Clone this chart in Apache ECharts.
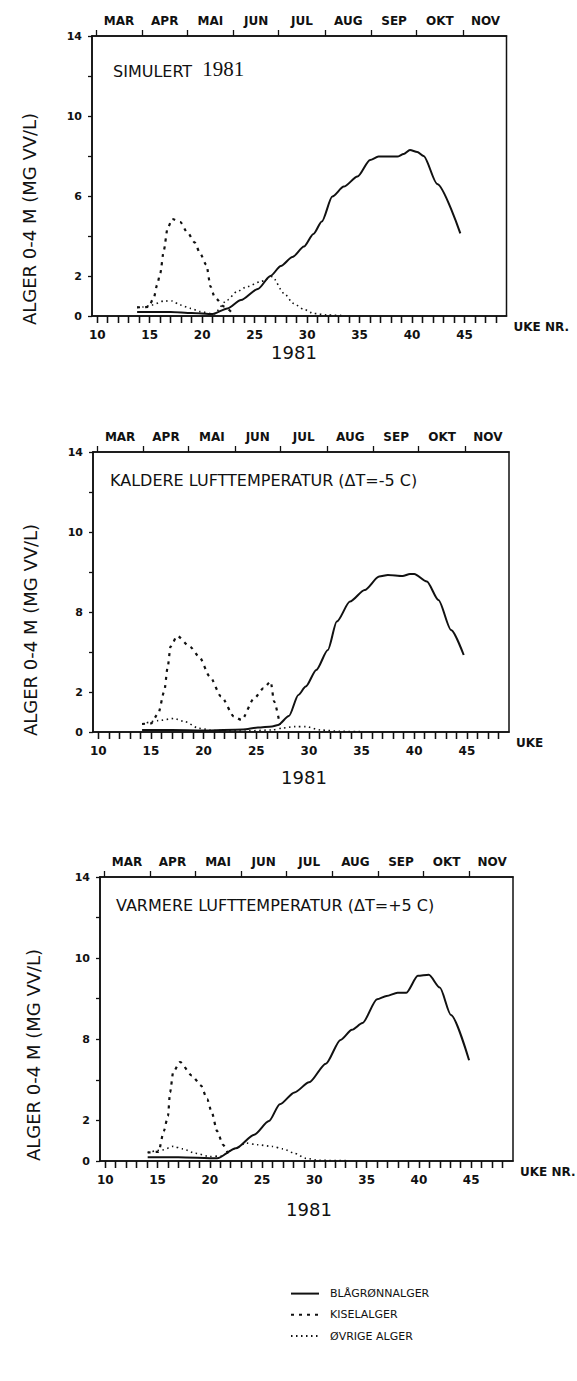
<!DOCTYPE html>
<html>
<head>
<meta charset="utf-8">
<script src="https://cdn.jsdelivr.net/npm/echarts@6/dist/echarts.min.js"></script>
<style>
html,body{margin:0;padding:0;background:#fff;}
#c{width:577px;height:1381px;}
</style>
</head>
<body>
<div id="c"></div>
<script>
// ---------- DATA ----------
const monthNames = ['MAR','APR','MAI','JUN','JUL','AUG','SEP','OKT','NOV'];
// month boundaries expressed in week numbers (1st of MAR ... 1st of DEC, 1981)
const monthStartWeeks = [9.86,14.29,18.57,23.0,27.29,31.71,36.14,40.43,44.86,49.14];
const weekTicks = [10,11,12,13,14,15,16,17,18,19,20,21,22,23,24,25,26,27,28,29,30,31,32,33,34,35,36,37,38,39,40,41,42,43,44,45,46,47,48];
const weekLabels = [10,15,20,25,30,35,40,45];
const yLabelValues = [0,2,6,10,14];
const yLabelTexts1 = ['0','2','6','10','14'];
const yLabelTexts23 = ['0','2','8','10','14'];
const seriesNames = ['BLÅGRØNNALGER','KISELALGER','ØVRIGE ALGER'];
const panelTitles = ['SIMULERT', 'KALDERE LUFTTEMPERATUR (ΔT=-5 C)', 'VARMERE LUFTTEMPERATUR (ΔT=+5 C)'];
const yearLabel = '1981';
const yTitle = 'ALGER 0-4 M (MG VV/L)';
const xNames = ['UKE NR.', 'UKE', 'UKE NR.'];

// Panel 1: simulert 1981  [week, mg/l]
const blaa1 = [[13.8,0.2],[15,0.2],[17,0.2],[19,0.15],[21,0.1],[22.4,0.38],[23.7,0.8],[25.3,1.35],[26.5,2.0],[27.5,2.5],[28.6,2.95],[29.7,3.47],[30.6,4.1],[31.4,4.72],[32.4,5.97],[33.5,6.47],[34.8,6.97],[36.0,7.8],[36.8,7.97],[38.6,7.97],[39.2,8.1],[39.8,8.3],[40.5,8.2],[41.1,8.0],[42.4,6.6],[44.6,4.13]];
const kisel1 = [[13.8,0.43],[14.9,0.45],[15.4,0.93],[15.7,1.55],[16.0,2.13],[16.35,3.3],[16.7,4.38],[17.15,4.85],[17.9,4.7],[18.6,4.17],[19.3,3.67],[19.8,3.13],[20.4,2.55],[20.8,1.47],[21.2,0.93],[22.1,0.47],[22.9,0.13]];
const ovrige1 = [[13.8,0.43],[14.4,0.45],[15.2,0.55],[16.35,0.75],[17.15,0.75],[17.9,0.55],[18.9,0.38],[19.8,0.22],[21.1,0.1],[22.4,0.8],[23.3,1.22],[24.3,1.47],[25.56,1.72],[26.67,1.97],[27.8,1.13],[28.7,0.63],[29.7,0.33],[30.6,0.13],[31.9,0.05],[33.5,0.02]];

// Panel 2: kaldere lufttemperatur
const blaa2 = [[14.16,0.1],[17,0.1],[20,0.08],[23.75,0.13],[25.16,0.22],[26.5,0.28],[27.07,0.35],[28.1,0.8],[29.0,1.85],[29.7,2.27],[30.7,3.1],[31.8,4.1],[32.65,5.52],[33.9,6.52],[35.3,7.1],[36.67,7.77],[37.5,7.85],[38.9,7.8],[39.6,7.9],[40.0,7.9],[41.2,7.52],[42.3,6.6],[43.5,5.1],[44.7,3.85]];
const kisel2 = [[14.16,0.4],[15.0,0.43],[15.7,0.93],[16.26,2.02],[16.6,3.27],[16.86,4.27],[17.5,4.8],[18.7,4.27],[19.57,3.77],[20.6,2.77],[21.67,1.77],[22.9,0.77],[23.6,0.6],[24.8,1.68],[25.68,2.18],[26.37,2.52],[26.7,1.52],[27.25,0.35]];
const ovrige2 = [[14.16,0.4],[15.7,0.57],[17.2,0.68],[18.2,0.52],[19.57,0.18],[21,0.07],[24,0.05],[26.5,0.1],[27.5,0.2],[28.7,0.27],[29.7,0.27],[31.1,0.1],[33,0.03],[35,0.02]];

// Panel 3: varmere lufttemperatur
const blaa3 = [[14.06,0.18],[17,0.18],[20.7,0.13],[22.5,0.63],[24.25,1.3],[25.66,1.97],[26.7,2.8],[28.1,3.38],[29.5,3.88],[31.1,4.8],[32.5,5.97],[33.6,6.47],[34.6,6.8],[36.0,7.97],[36.9,8.13],[37.96,8.3],[38.8,8.3],[39.9,9.13],[40.95,9.18],[42.0,8.55],[43.06,7.2],[44.8,4.97]];
const kisel3 = [[14.06,0.42],[15.1,0.45],[15.6,1.47],[16.0,2.22],[16.2,3.38],[16.5,4.38],[17.15,4.88],[18.28,4.22],[19.16,3.72],[19.75,3.05],[20.2,2.38],[20.7,1.47],[21.27,0.8],[21.8,0.3]];
const ovrige3 = [[14.06,0.42],[15.5,0.55],[16.5,0.72],[17.4,0.6],[18.6,0.38],[20.0,0.22],[21.1,0.25],[22.3,0.6],[23.5,0.88],[24.56,0.8],[25.96,0.72],[27.0,0.6],[28.1,0.38],[29.2,0.13],[30.5,0.03],[33,0.02]];

// ---------- LAYOUT ----------
const FONT = 'DejaVu Sans';
const INK = '#111';
const X_MIN = 9.5, X_MAX = 49;
const panels = [
  {grid:{left:92, top:36, width:414.5, height:280}, data:[blaa1,kisel1,ovrige1], yl:yLabelTexts1,
   yTitlePos:[29,219], yearPos:[294,352], titlePos:[113,58]},
  {grid:{left:93, top:452, width:416, height:280}, data:[blaa2,kisel2,ovrige2], yl:yLabelTexts23,
   yTitlePos:[30,630], yearPos:[304,777], titlePos:[110,472]},
  {grid:{left:100, top:877, width:413, height:284}, data:[blaa3,kisel3,ovrige3], yl:yLabelTexts23,
   yTitlePos:[33,1055], yearPos:[309,1209], titlePos:[116,897]}
];

const monthMids = [];
for (let i = 0; i < monthNames.length; i++) monthMids.push((monthStartWeeks[i] + monthStartWeeks[i+1]) / 2);
function monthFmt(v){
  let best = 0, bd = 1e9;
  monthMids.forEach((m,i)=>{ const d = Math.abs(m - v); if (d < bd){bd = d; best = i;} });
  return monthNames[best];
}

const lineStyles = [
  {type:'solid', width:2, color:INK},
  {type:[3,5], width:2.2, color:INK},
  {type:[1.5,3.5], width:1.6, color:INK}
];

const grids = [], xAxes = [], yAxes = [], series = [], graphics = [], titles = [];
panels.forEach((p, i) => {
  grids.push(Object.assign({show:true, borderColor:INK, borderWidth:1.5, backgroundColor:'transparent'}, p.grid));
  const axLine = {show:true, onZero:false, lineStyle:{color:INK, width:1.6}};
  // bottom week axis
  xAxes.push({gridIndex:i, type:'value', position:'bottom', min:X_MIN, max:X_MAX,
    axisLine:axLine,
    axisTick:{show:true, customValues:weekTicks, length:7, inside:false, lineStyle:{color:INK, width:1.3}},
    axisLabel:{customValues:weekLabels, fontFamily:FONT, fontSize:12, fontWeight:'bold', color:INK, margin:13},
    splitLine:{show:false},
    name:xNames[i], nameLocation:'end', nameGap:7,
    nameTextStyle:{fontFamily:FONT, fontSize:12, fontWeight:'bold', color:INK, verticalAlign:'top', align:'left', padding:[5,0,0,0]}
  });
  // top month axis
  xAxes.push({gridIndex:i, type:'value', position:'top', min:X_MIN, max:X_MAX,
    axisLine:axLine,
    axisTick:{show:true, customValues:monthStartWeeks, length:6, inside:false, lineStyle:{color:INK, width:1.3}},
    axisLabel:{customValues:monthMids, formatter:monthFmt, fontFamily:FONT, fontSize:12, fontWeight:'bold', color:INK, margin:9},
    splitLine:{show:false}
  });
  // top inward week ticks
  xAxes.push({gridIndex:i, type:'value', position:'top', min:X_MIN, max:X_MAX,
    axisLine:{show:false},
    axisTick:{show:true, customValues:weekTicks, length:7, inside:true, lineStyle:{color:INK, width:1.3}},
    axisLabel:{show:false},
    splitLine:{show:false}
  });
  const yl = p.yl;
  yAxes.push({gridIndex:i, type:'value', position:'left', min:0, max:14, interval:2,
    axisLine:{show:true, onZero:false, lineStyle:{color:INK, width:1.6}},
    axisTick:{show:true, length:4, lineStyle:{color:INK, width:1.3}},
    axisLabel:{fontFamily:FONT, fontSize:11, fontWeight:'bold', color:INK, margin:10,
      formatter:function(v){ const k = yLabelValues.indexOf(v); return k >= 0 ? yl[k] : ''; }},
    splitLine:{show:false}
  });
  p.data.forEach((d, s) => {
    series.push({type:'line', name:seriesNames[s], xAxisIndex:i*3, yAxisIndex:i, data:d,
      symbol:'none', smooth:0.25, smoothMonotone:'x', lineStyle:lineStyles[s],
      itemStyle:{color:INK}, z:3});
  });
  graphics.push({type:'text', x:p.yTitlePos[0], y:p.yTitlePos[1], rotation:Math.PI/2,
    style:{text:yTitle, fill:INK, font:'18px "DejaVu Sans"', textAlign:'center', textVerticalAlign:'middle'}});
  graphics.push({type:'text', x:p.yearPos[0], y:p.yearPos[1],
    style:{text:yearLabel, fill:INK, font:'18px "DejaVu Sans"', textAlign:'center', textVerticalAlign:'middle'}});
  if (i === 0) {
    titles.push({left:p.titlePos[0], top:p.titlePos[1], padding:0,
      text:'{a|' + panelTitles[0] + '}  {b|' + yearLabel + '}',
      textStyle:{fontWeight:'normal', rich:{
        a:{fontFamily:FONT, fontSize:16, fontWeight:'normal', color:INK, verticalAlign:'bottom'},
        b:{fontFamily:'Liberation Serif', fontSize:21, fontWeight:'normal', color:INK, verticalAlign:'bottom'}}}});
  } else {
    titles.push({left:p.titlePos[0], top:p.titlePos[1], padding:0, text:panelTitles[i],
      textStyle:{fontFamily:FONT, fontSize:16, fontWeight:'normal', color:INK}});
  }
});

const option = {
  backgroundColor:'#fff',
  animation:false,
  title:titles,
  grid:grids,
  xAxis:xAxes,
  yAxis:yAxes,
  legend:{data:seriesNames, orient:'vertical', left:285, top:1283, itemWidth:28, itemHeight:14, itemGap:10,
    itemStyle:{color:'rgba(0,0,0,0)', borderColor:'rgba(0,0,0,0)', borderWidth:0, opacity:0},
    textStyle:{fontFamily:FONT, fontSize:11, color:INK, padding:[0,0,0,6]}},
  graphic:graphics,
  series:series
};
const chart = echarts.init(document.getElementById('c'), null, {renderer:'svg'});
chart.setOption(option);
</script>
</body>
</html>
